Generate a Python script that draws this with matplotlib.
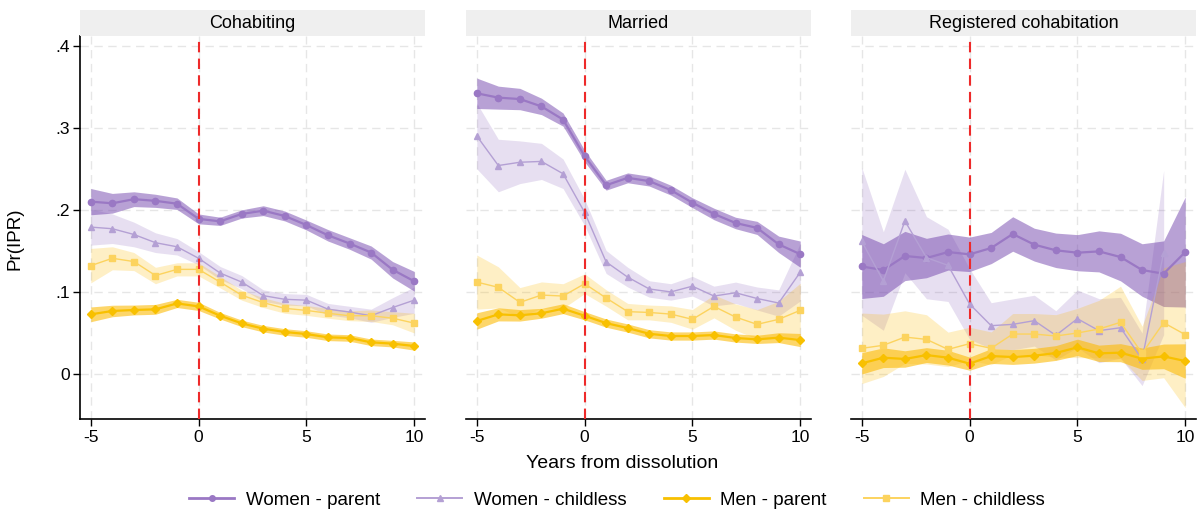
import numpy as np
import matplotlib
matplotlib.use("Agg")
import matplotlib.pyplot as plt
from matplotlib.lines import Line2D

plt.rcParams['font.family'] = ['Liberation Sans', 'DejaVu Sans']

years = list(range(-5, 11))
panels = ["Cohabiting", "Married", "Registered cohabitation"]
series_names = ["Women - parent", "Women - childless", "Men - parent", "Men - childless"]
yticks = [0, 0.1, 0.2, 0.3, 0.4]
ytick_labels = ["0", ".1", ".2", ".3", ".4"]
xticks = [-5, 0, 5, 10]

# ---- Cohabiting ----
coh_wp = [0.210, 0.208, 0.213, 0.211, 0.2075, 0.189, 0.186, 0.195, 0.199, 0.1925, 0.1815, 0.169, 0.159, 0.148, 0.127, 0.113]
coh_wp_ci = [0.016, 0.012, 0.009, 0.008, 0.007, 0.006, 0.005, 0.005, 0.006, 0.006, 0.006, 0.007, 0.007, 0.008, 0.010, 0.012]
coh_wc = [0.179, 0.177, 0.170, 0.160, 0.155, 0.141, 0.123, 0.112, 0.0955, 0.091, 0.090, 0.079, 0.0755, 0.071, 0.081, 0.090]
coh_wc_ci = [0.022, 0.018, 0.015, 0.012, 0.010, 0.008, 0.008, 0.008, 0.007, 0.007, 0.007, 0.007, 0.007, 0.008, 0.012, 0.016]
coh_mp = [0.0727, 0.0768, 0.078, 0.0788, 0.086, 0.0824, 0.071, 0.0617, 0.0552, 0.0512, 0.0487, 0.0447, 0.0439, 0.0386, 0.037, 0.0341]
coh_mp_ci = [0.009, 0.007, 0.006, 0.006, 0.005, 0.005, 0.004, 0.004, 0.004, 0.004, 0.004, 0.004, 0.004, 0.004, 0.004, 0.005]
coh_mc = [0.132, 0.141, 0.137, 0.120, 0.1275, 0.1275, 0.112, 0.096, 0.087, 0.080, 0.0775, 0.074, 0.071, 0.071, 0.068, 0.062]
coh_mc_ci = [0.021, 0.014, 0.011, 0.010, 0.008, 0.008, 0.007, 0.006, 0.006, 0.006, 0.006, 0.006, 0.006, 0.007, 0.008, 0.012]

# ---- Married ----
mar_wp = [0.342, 0.3367, 0.335, 0.326, 0.310, 0.2656, 0.230, 0.239, 0.235, 0.224, 0.2087, 0.195, 0.184, 0.178, 0.158, 0.146]
mar_wp_ci = [0.0185, 0.014, 0.013, 0.010, 0.008, 0.007, 0.006, 0.006, 0.006, 0.006, 0.006, 0.007, 0.007, 0.008, 0.010, 0.016]
mar_wc = [0.290, 0.254, 0.258, 0.259, 0.244, 0.197, 0.1365, 0.118, 0.1036, 0.100, 0.107, 0.095, 0.099, 0.092, 0.0865, 0.124]
mar_wc_ci = [0.040, 0.032, 0.026, 0.022, 0.018, 0.016, 0.014, 0.012, 0.010, 0.010, 0.012, 0.012, 0.013, 0.014, 0.016, 0.035]
mar_mp = [0.0646, 0.0727, 0.0715, 0.074, 0.0796, 0.071, 0.062, 0.056, 0.049, 0.0463, 0.0463, 0.0475, 0.0439, 0.0422, 0.0443, 0.0414]
mar_mp_ci = [0.010, 0.008, 0.007, 0.006, 0.006, 0.005, 0.005, 0.005, 0.005, 0.005, 0.005, 0.005, 0.005, 0.005, 0.006, 0.008]
mar_mc = [0.112, 0.1056, 0.0873, 0.0962, 0.095, 0.110, 0.0926, 0.076, 0.075, 0.073, 0.0666, 0.0824, 0.0694, 0.0605, 0.0666, 0.0776]
mar_mc_ci = [0.033, 0.025, 0.018, 0.016, 0.015, 0.012, 0.010, 0.010, 0.009, 0.010, 0.012, 0.014, 0.016, 0.018, 0.022, 0.033]

# ---- Registered cohabitation ----
reg_wp = [0.131, 0.1267, 0.1438, 0.1413, 0.1486, 0.1458, 0.1535, 0.1706, 0.1576, 0.1507, 0.1478, 0.1494, 0.1425, 0.1267, 0.1222, 0.1486]
reg_wp_ci = [0.039, 0.032, 0.030, 0.024, 0.022, 0.021, 0.019, 0.021, 0.020, 0.021, 0.022, 0.025, 0.029, 0.032, 0.040, 0.067]
reg_wc = [0.1616, 0.1133, 0.1864, 0.1417, 0.1324, 0.0853, 0.0589, 0.0605, 0.065, 0.0471, 0.0674, 0.0528, 0.0564, 0.0179, 0.148, np.nan]
reg_wc_ci = [0.090, 0.060, 0.063, 0.050, 0.044, 0.043, 0.028, 0.031, 0.031, 0.030, 0.035, 0.039, 0.037, 0.032, 0.100, np.nan]
reg_mp = [0.013, 0.0199, 0.0183, 0.0231, 0.0199, 0.0126, 0.0219, 0.0207, 0.0223, 0.0256, 0.0325, 0.0252, 0.026, 0.0187, 0.0215, 0.0158]
reg_mp_ci = [0.013, 0.012, 0.010, 0.009, 0.009, 0.008, 0.009, 0.009, 0.009, 0.009, 0.010, 0.010, 0.011, 0.013, 0.015, 0.021]
reg_mc = [0.0313, 0.035, 0.045, 0.0422, 0.030, 0.037, 0.0313, 0.0487, 0.0487, 0.0463, 0.050, 0.0548, 0.063, 0.0252, 0.0625, 0.048]
reg_mc_ci = [0.043, 0.038, 0.032, 0.030, 0.021, 0.020, 0.020, 0.025, 0.025, 0.026, 0.030, 0.035, 0.044, 0.033, 0.067, 0.089]

data = [
    [(coh_wp, coh_wp_ci), (coh_wc, coh_wc_ci), (coh_mp, coh_mp_ci), (coh_mc, coh_mc_ci)],
    [(mar_wp, mar_wp_ci), (mar_wc, mar_wc_ci), (mar_mp, mar_mp_ci), (mar_mc, mar_mc_ci)],
    [(reg_wp, reg_wp_ci), (reg_wc, reg_wc_ci), (reg_mp, reg_mp_ci), (reg_mc, reg_mc_ci)],
]

purple_band = "#7345ad"
yellow_band = "#fcbb07"
styles = [
    dict(line="#9a78c4", band=purple_band, alpha=0.5, marker="o", ms=4.5, lw=1.6),
    dict(line="#b4a0d4", band=purple_band, alpha=0.17, marker="^", ms=5, lw=1.0),
    dict(line="#f8c000", band=yellow_band, alpha=0.6, marker="D", ms=4.5, lw=1.6),
    dict(line="#fcd35e", band=yellow_band, alpha=0.23, marker="s", ms=4.5, lw=1.0),
]

W, H = 1198, 512
fig = plt.figure(figsize=(W / 100, H / 100), dpi=100)
lefts = [80, 466, 851]
pw = 345
top_px, bot_px = 36, 419
strip_top = 10

for i, name in enumerate(panels):
    ax = fig.add_axes([lefts[i] / W, 1 - bot_px / H, pw / W, (bot_px - top_px) / H])
    x = np.array(years)
    for s, (vals, ci) in enumerate(data[i]):
        st = styles[s]
        v = np.array(vals, dtype=float)
        c = np.array(ci, dtype=float)
        ax.fill_between(x, v - c, v + c, color=st["band"], alpha=st["alpha"], linewidth=0, zorder=2)
    for s, (vals, ci) in enumerate(data[i]):
        st = styles[s]
        v = np.array(vals, dtype=float)
        ax.plot(x, v, color=st["line"], marker=st["marker"], ms=st["ms"], lw=st["lw"], zorder=4)
    ax.axvline(0, color="#ee2a2a", lw=1.5, ls=(0, (5, 3)), zorder=5)
    ax.set_xlim(-5.5, 10.5)
    ax.set_ylim(-0.0548, 0.4118)
    ax.set_xticks(xticks)
    ax.set_xticklabels([str(t) for t in xticks], fontsize=12.5)
    ax.set_yticks(yticks)
    ax.grid(True, color="#e6e6e6", lw=1.0, ls=(0, (6, 4)), zorder=0)
    ax.set_axisbelow(True)
    for sp in ["top", "right"]:
        ax.spines[sp].set_visible(False)
    ax.spines["bottom"].set_linewidth(1.2)
    ax.tick_params(axis="x", length=5, width=1.0, pad=3)
    if i == 0:
        ax.set_yticklabels(ytick_labels, fontsize=12.5)
        ax.spines["left"].set_linewidth(1.2)
        ax.tick_params(axis="y", length=5, width=1.0, pad=2)
    else:
        ax.spines["left"].set_visible(False)
        ax.tick_params(axis="y", length=0, labelleft=False)
    # strip header
    sax = fig.add_axes([lefts[i] / W, 1 - top_px / H, pw / W, (top_px - strip_top) / H])
    sax.set_facecolor("#efefef")
    for sp in sax.spines.values():
        sp.set_visible(False)
    sax.set_xticks([])
    sax.set_yticks([])
    sax.text(0.5, 0.5, name, ha="center", va="center", fontsize=13, transform=sax.transAxes)

fig.text(622 / W, 1 - 463 / H, "Years from dissolution", ha="center", va="center", fontsize=14)
fig.text(15 / W, 1 - 239 / H, "Pr(IPR)", ha="center", va="center", rotation=90, fontsize=13.5)

handles = [Line2D([0], [0], color=st["line"], marker=st["marker"], ms=st["ms"] - 0.5, lw=st["lw"] + 0.4)
           for st in styles]
fig.legend(handles, series_names, loc="center", bbox_to_anchor=(617 / W, 1 - 500 / H), ncol=4,
           frameon=False, fontsize=13.5, handlelength=2.4, handletextpad=0.6, columnspacing=2.0)

fig.savefig("out.png", dpi=100)
